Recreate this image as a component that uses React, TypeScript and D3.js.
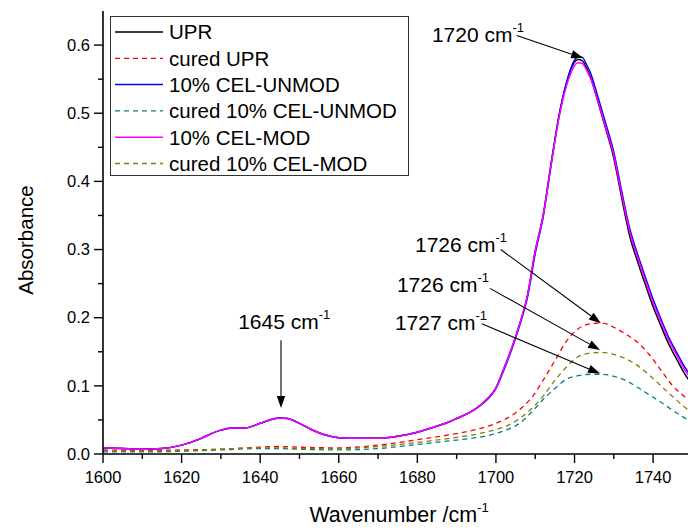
import React from "react";
import * as d3 from "d3";

const W = 688;
const H = 529;

const xTicks = [1600, 1620, 1640, 1660, 1680, 1700, 1720, 1740];
const xMinorTicks = [1610, 1630, 1650, 1670, 1690, 1710, 1730, 1750];
const yTicks = [0.0, 0.1, 0.2, 0.3, 0.4, 0.5, 0.6];
const yMinorTicks = [0.05, 0.15, 0.25, 0.35, 0.45, 0.55];

const mainWn = [1600, 1605, 1610, 1615, 1620, 1625, 1628, 1630, 1633, 1636, 1640, 1643, 1645, 1647, 1650, 1653, 1656, 1660, 1665, 1670, 1675, 1680, 1685, 1688, 1690, 1693, 1695, 1698, 1700, 1702, 1704, 1706, 1708, 1710, 1712, 1714, 1716, 1718, 1719, 1720, 1721, 1722, 1723, 1724, 1726, 1728, 1730, 1732, 1734, 1736, 1738, 1740, 1742, 1744, 1746, 1748, 1750];
const upr = [0.009, 0.008, 0.007, 0.008, 0.013, 0.023, 0.031, 0.035, 0.038, 0.038, 0.045, 0.051, 0.053, 0.052, 0.045, 0.036, 0.029, 0.024, 0.023, 0.023, 0.026, 0.032, 0.041, 0.047, 0.052, 0.060, 0.067, 0.082, 0.097, 0.125, 0.155, 0.190, 0.232, 0.298, 0.350, 0.425, 0.495, 0.545, 0.563, 0.575, 0.579, 0.577, 0.567, 0.554, 0.516, 0.476, 0.434, 0.376, 0.321, 0.283, 0.249, 0.216, 0.188, 0.161, 0.139, 0.118, 0.102];
const celUnmod = [0.009, 0.008, 0.007, 0.008, 0.013, 0.023, 0.031, 0.035, 0.038, 0.038, 0.045, 0.051, 0.053, 0.052, 0.045, 0.036, 0.029, 0.024, 0.023, 0.023, 0.026, 0.032, 0.041, 0.047, 0.052, 0.060, 0.067, 0.081, 0.096, 0.123, 0.153, 0.188, 0.229, 0.294, 0.347, 0.422, 0.494, 0.546, 0.565, 0.578, 0.583, 0.582, 0.572, 0.560, 0.523, 0.484, 0.443, 0.386, 0.332, 0.294, 0.260, 0.227, 0.198, 0.171, 0.149, 0.128, 0.112];
const celMod = [0.009, 0.008, 0.007, 0.008, 0.013, 0.023, 0.031, 0.035, 0.038, 0.038, 0.045, 0.051, 0.053, 0.052, 0.045, 0.036, 0.029, 0.024, 0.023, 0.023, 0.026, 0.032, 0.041, 0.047, 0.052, 0.060, 0.067, 0.082, 0.097, 0.125, 0.155, 0.190, 0.232, 0.298, 0.349, 0.423, 0.492, 0.541, 0.558, 0.570, 0.574, 0.573, 0.564, 0.552, 0.517, 0.478, 0.438, 0.381, 0.327, 0.289, 0.255, 0.222, 0.194, 0.167, 0.145, 0.124, 0.108];

const curedWn = [1600, 1610, 1620, 1630, 1640, 1645, 1650, 1660, 1670, 1680, 1690, 1695, 1700, 1703, 1706, 1709, 1712, 1715, 1718, 1721, 1724, 1727, 1730, 1733, 1736, 1739, 1742, 1745, 1748, 1750];
const curedUpr = [0.006, 0.005, 0.006, 0.007, 0.010, 0.011, 0.010, 0.009, 0.013, 0.021, 0.030, 0.036, 0.045, 0.053, 0.065, 0.082, 0.108, 0.137, 0.166, 0.184, 0.191, 0.192, 0.186, 0.176, 0.164, 0.146, 0.123, 0.100, 0.084, 0.074];
const curedCelUnmod = [0.003, 0.003, 0.004, 0.006, 0.008, 0.008, 0.007, 0.006, 0.008, 0.014, 0.0205, 0.024, 0.030, 0.036, 0.045, 0.061, 0.080, 0.096, 0.110, 0.115, 0.117, 0.117, 0.114, 0.108, 0.098, 0.087, 0.076, 0.064, 0.053, 0.047];
const curedCelMod = [0.005, 0.004, 0.005, 0.007, 0.009, 0.009, 0.008, 0.008, 0.011, 0.017, 0.0245, 0.029, 0.036, 0.042, 0.052, 0.066, 0.085, 0.108, 0.128, 0.143, 0.148, 0.149, 0.146, 0.140, 0.130, 0.116, 0.100, 0.084, 0.069, 0.060];

const seriesNames = ["UPR", "cured UPR", "10% CEL-UNMOD", "cured 10% CEL-UNMOD", "10% CEL-MOD", "cured 10% CEL-MOD"];
const seriesColors = ["#000000", "#ff0000", "#0000ff", "#008080", "#ff00ff", "#808000"];
const seriesDashed = [false, true, false, true, false, true];

// annotations in data units: label anchor (wn, abs), arrow start, arrow tip
const annLabels = ["1720 cm", "1726 cm", "1726 cm", "1727 cm", "1645 cm"];
const annTextWn = [1683.7, 1679.4, 1674.8, 1674.3, 1634.4];
const annTextAbs = [0.605, 0.297, 0.238, 0.182, 0.184];
const annFromWn = [1705.3, 1701.2, 1698.5, 1696.4, 1645.3];
const annFromAbs = [0.614, 0.300, 0.243, 0.191, 0.167];
const annToWn = [1722.2, 1726.7, 1726.5, 1726.5, 1645.3];
const annToAbs = [0.581, 0.192, 0.1526, 0.118, 0.0675];

const FONT = "'Liberation Sans', Arial, Helvetica, sans-serif";

export default function App() {
  const x = d3.scaleLinear().domain([1600, 1750]).range([103, 692.4]);
  const y = d3.scaleLinear().domain([0, 0.65]).range([454, 11]);

  const series = [
    { wn: mainWn, v: upr },
    { wn: curedWn, v: curedUpr },
    { wn: mainWn, v: celUnmod },
    { wn: curedWn, v: curedCelUnmod },
    { wn: mainWn, v: celMod },
    { wn: curedWn, v: curedCelMod },
  ];

  const line = d3
    .line<[number, number]>()
    .x((d) => x(d[0]))
    .y((d) => y(d[1]))
    .curve(d3.curveMonotoneX);

  const x0 = x(1600);
  const y0 = y(0);
  const legendRowY = (i: number) => 32 + i * 26.3;

  return (
    <svg
      width={W}
      height={H}
      style={{ position: "absolute", left: 0, top: 0, background: "#fff" }}
      fontFamily={FONT}
    >
      <defs>
        <clipPath id="plotClip">
          <rect x={x0} y={0} width={W - x0} height={y0 + 1} />
        </clipPath>
      </defs>
      <rect x={0} y={0} width={W} height={H} fill="#fff" />

      {/* curves */}
      <g clipPath="url(#plotClip)">
        {series.map((s, i) => (
          <path
            key={i}
            d={line(s.wn.map((w, j) => [w, s.v[j]] as [number, number])) || ""}
            fill="none"
            stroke={seriesColors[i]}
            strokeWidth={seriesDashed[i] ? 1.3 : 1.5}
            strokeDasharray={seriesDashed[i] ? "5,4" : undefined}
          />
        ))}
      </g>

      {/* axes */}
      <line x1={x0} y1={y(0.65)} x2={x0} y2={y0} stroke="#000" strokeWidth={1.6} />
      <line x1={x0} y1={y0} x2={W} y2={y0} stroke="#000" strokeWidth={1.6} />
      {xTicks.map((t) => (
        <g key={"xt" + t}>
          <line x1={x(t)} x2={x(t)} y1={y0} y2={y0 + 9} stroke="#000" strokeWidth={1.4} />
          <text x={x(t)} y={483} textAnchor="middle" fontSize={16.5} fill="#000">
            {t}
          </text>
        </g>
      ))}
      {xMinorTicks.map((t) => (
        <line key={"xm" + t} x1={x(t)} x2={x(t)} y1={y0} y2={y0 + 5} stroke="#000" strokeWidth={1.4} />
      ))}
      {yTicks.map((t) => (
        <g key={"yt" + t}>
          <line x1={x0 - 9} x2={x0} y1={y(t)} y2={y(t)} stroke="#000" strokeWidth={1.4} />
          <text x={90} y={y(t)} dy="0.35em" textAnchor="end" fontSize={16.5} fill="#000">
            {t.toFixed(1)}
          </text>
        </g>
      ))}
      {yMinorTicks.map((t) => (
        <line key={"ym" + t} x1={x0 - 5} x2={x0} y1={y(t)} y2={y(t)} stroke="#000" strokeWidth={1.4} />
      ))}

      {/* axis titles */}
      <text x={399} y={522} textAnchor="middle" fontSize={21.5} fill="#000">
        Wavenumber /cm
        <tspan fontSize={13} dy={-10}>-1</tspan>
      </text>
      <text
        transform="translate(33,240) rotate(-90)"
        textAnchor="middle"
        fontSize={20.5}
        fill="#000"
      >
        Absorbance
      </text>

      {/* annotations */}
      {annLabels.map((lab, i) => {
        const fx = x(annFromWn[i]);
        const fy = y(annFromAbs[i]);
        const tx = x(annToWn[i]);
        const ty = y(annToAbs[i]);
        const ang = Math.atan2(ty - fy, tx - fx);
        const L = 12;
        const hw = 4.2;
        const bx = tx - L * Math.cos(ang);
        const by = ty - L * Math.sin(ang);
        const px = -Math.sin(ang) * hw;
        const py = Math.cos(ang) * hw;
        return (
          <g key={"ann" + i}>
            <text x={x(annTextWn[i])} y={y(annTextAbs[i])} fontSize={21} fill="#000">
              {lab}
              <tspan fontSize={13} dy={-10}>-1</tspan>
            </text>
            <line x1={fx} y1={fy} x2={bx} y2={by} stroke="#000" strokeWidth={1.1} />
            <polygon
              points={`${tx},${ty} ${bx + px},${by + py} ${bx - px},${by - py}`}
              fill="#000"
            />
          </g>
        );
      })}

      {/* legend */}
      <rect x={110.5} y={16.5} width={298} height={159} fill="#fff" stroke="#333" strokeWidth={1} />
      {seriesNames.map((name, i) => (
        <g key={"lg" + i}>
          <line
            x1={115}
            x2={163}
            y1={legendRowY(i)}
            y2={legendRowY(i)}
            stroke={seriesColors[i]}
            strokeWidth={seriesDashed[i] ? 1.3 : 1.5}
            strokeDasharray={seriesDashed[i] ? "5,4" : undefined}
          />
          <text x={169} y={legendRowY(i)} dy="0.36em" fontSize={20.5} fill="#000">
            {name}
          </text>
        </g>
      ))}
    </svg>
  );
}
